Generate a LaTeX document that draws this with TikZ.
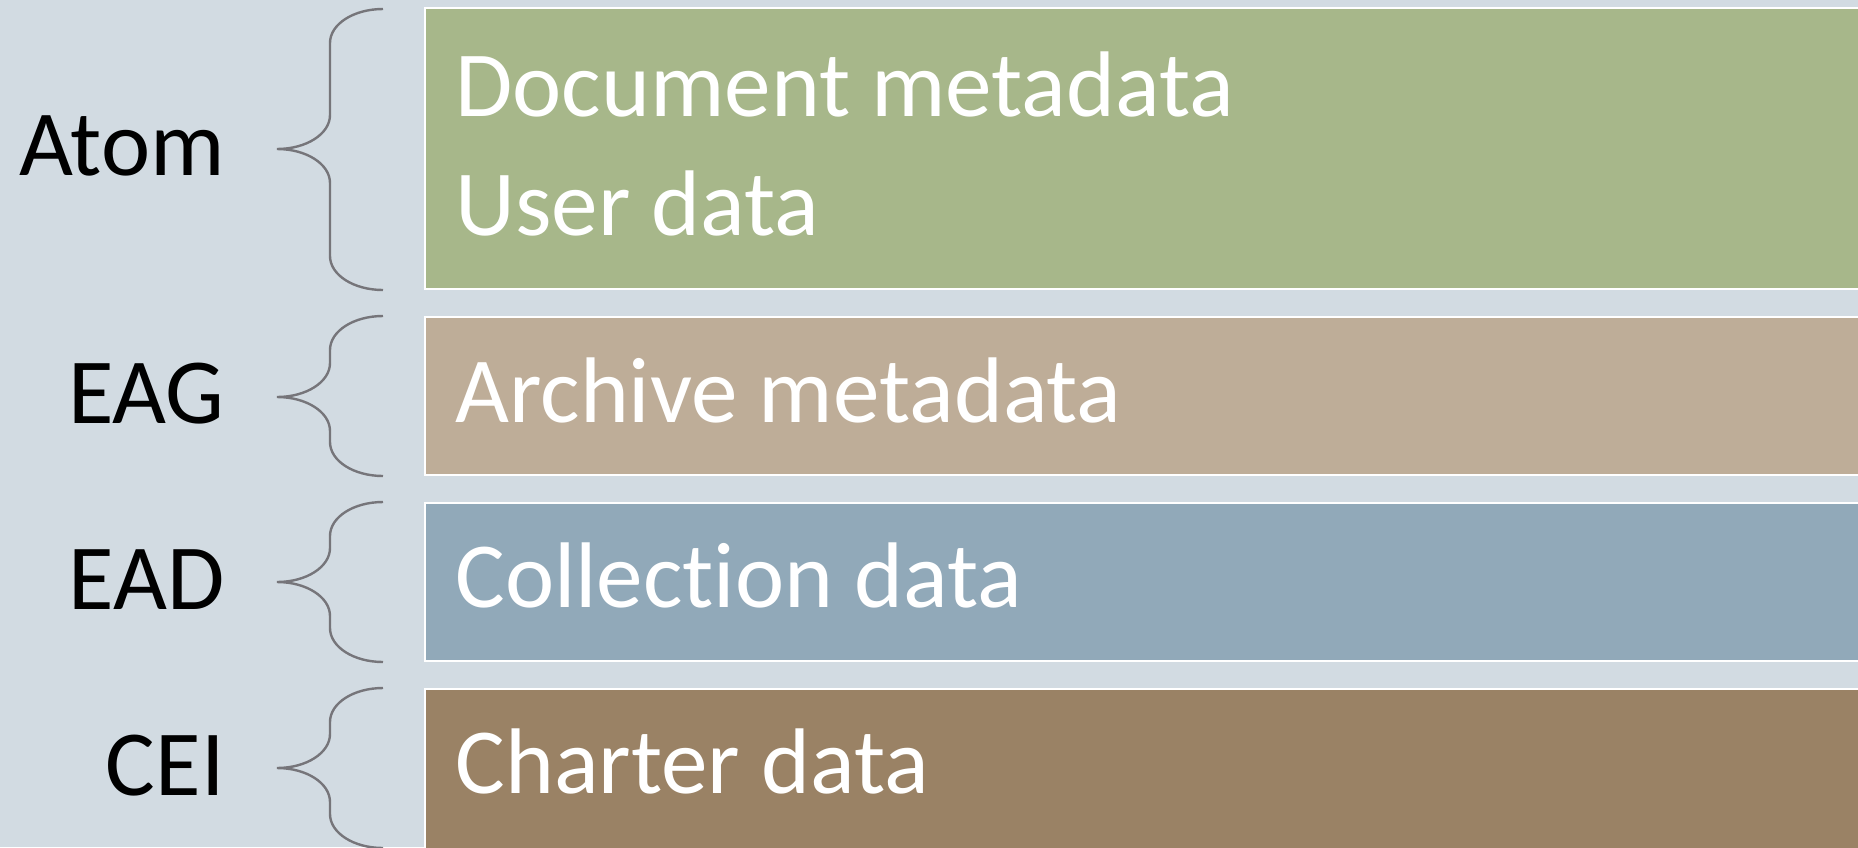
\documentclass[tikz,border=0pt]{standalone}
\usepackage{fontspec}
\setmainfont{Carlito}[Ligatures=CommonOff]
\definecolor{bgcol}{HTML}{D2DBE2}
\definecolor{greencol}{HTML}{A7B78A}
\definecolor{tancol}{HTML}{BEAD98}
\definecolor{bluecol}{HTML}{91A9B9}
\definecolor{browncol}{HTML}{9A8265}
\definecolor{bracecol}{HTML}{76757A}
\tikzset{
  layerbox/.style={draw=white, line width=1.4pt},
  boxtext/.style={anchor=base west, inner sep=0pt, text=white, font=\fontsize{46.6}{56}\selectfont},
  labeltext/.style={anchor=base east, inner sep=0pt, text=black, font=\fontsize{46.6}{56}\selectfont},
  bracestyle/.style={draw=bracecol, line width=1.2pt}
}
\newcommand\drawmybrace[3]{% top, tip, bottom
  \draw[bracestyle] (383,#1) .. controls (353.7,#1) and (330,{#1+15}) .. (330,{#1+34})
    -- (330,{#2-34}) .. controls (330,{#2-15}) and (306.3,#2) .. (277,#2)
    .. controls (306.3,#2) and (330,{#2+15}) .. (330,{#2+34})
    -- (330,{#3-34}) .. controls (330,{#3-15}) and (353.7,#3) .. (383,#3);
}
\begin{document}
\begin{tikzpicture}[x=0.5pt, y=-0.5pt]
  \fill[bgcol] (0,0) rectangle (1858,847);
  \useasboundingbox (0,0) rectangle (1858,847);
  \begin{scope}
    \clip (0,0) rectangle (1858,847);
    \path[layerbox, fill=greencol] (425,8) rectangle (1880,289);
    \path[layerbox, fill=tancol] (425,317) rectangle (1880,475);
    \path[layerbox, fill=bluecol] (425,503) rectangle (1880,661);
    \path[layerbox, fill=browncol] (425,689) rectangle (1880,870);
    \drawmybrace{9}{149}{290}
    \drawmybrace{316}{397}{476}
    \drawmybrace{502}{582}{662}
    \drawmybrace{688}{768}{848}
  \end{scope}
  \node[boxtext] (docmeta) at (455,116) {Document metadata};
  \node[boxtext] (userdata) at (455,235) {User data};
  \node[boxtext] (archmeta) at (455,422) {Archive metadata};
  \node[boxtext] (colldata) at (455,607) {Collection data};
  \node[boxtext] (chartdata) at (455,793) {Charter data};
  \node[labeltext] (atom) at (225,175) {Atom};
  \node[labeltext] (eag) at (225,423) {EAG};
  \node[labeltext] (ead) at (225,609) {EAD};
  \node[labeltext] (cei) at (225,795) {CEI};
\end{tikzpicture}
\end{document}
